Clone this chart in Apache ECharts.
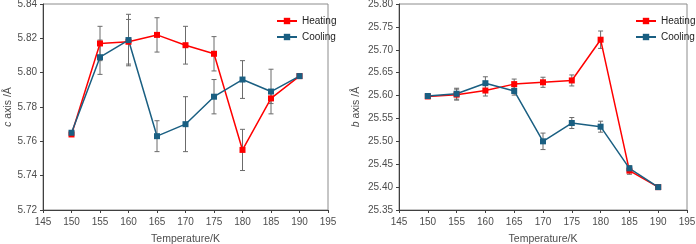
<!DOCTYPE html>
<html>
<head>
<meta charset="utf-8">
<script src="https://cdn.jsdelivr.net/npm/echarts@6/dist/echarts.min.js"></script>
<style>
  html, body { margin: 0; padding: 0; background: #fff; }
  #chart { width: 696px; height: 244px; }
</style>
</head>
<body>
<div id="chart"></div>
<script>
var temps = [150, 155, 160, 165, 170, 175, 180, 185, 190];

// c axis (left panel)
var heatC = [5.764, 5.817, 5.818, 5.822, 5.816, 5.811, 5.755, 5.785, 5.798];
var heatCErr = [0.001, 0.010, 0.013, 0.010, 0.011, 0.010, 0.012, 0.003, 0.001];
var coolC = [5.765, 5.809, 5.819, 5.763, 5.770, 5.786, 5.796, 5.789, 5.798];
var coolCErr = [0.001, 0.010, 0.015, 0.009, 0.016, 0.010, 0.011, 0.013, 0.001];

// b axis (right panel)
var heatB = [25.598, 25.602, 25.611, 25.625, 25.629, 25.633, 25.722, 25.436, 25.400];
var heatBErr = [0.003, 0.012, 0.012, 0.011, 0.011, 0.012, 0.019, 0.008, 0.001];
var coolB = [25.599, 25.604, 25.627, 25.610, 25.500, 25.540, 25.532, 25.441, 25.400];
var coolBErr = [0.003, 0.012, 0.014, 0.009, 0.018, 0.012, 0.012, 0.006, 0.001];

var red = '#ff0000';
var blue = '#1a5f82';
var txt = '#4d4d4d';
var font = 'Liberation Sans';

function pairs(vals) {
  return temps.map(function (t, i) { return [t, vals[i]]; });
}
function errs(vals, e) {
  return temps.map(function (t, i) { return [t, vals[i] - e[i], vals[i] + e[i]]; });
}

function errRender(params, api) {
  var x = api.value(0);
  var top = api.coord([x, api.value(2)]);
  var bot = api.coord([x, api.value(1)]);
  var w = 2.5;
  var st = { stroke: '#6b6b6b', lineWidth: 1 };
  return {
    type: 'group',
    children: [
      { type: 'line', shape: { x1: top[0], y1: top[1], x2: bot[0], y2: bot[1] }, style: st },
      { type: 'line', shape: { x1: top[0] - w, y1: top[1], x2: top[0] + w, y2: top[1] }, style: st },
      { type: 'line', shape: { x1: bot[0] - w, y1: bot[1], x2: bot[0] + w, y2: bot[1] }, style: st }
    ]
  };
}

function errSeries(name, vals, e, idx) {
  return {
    name: name,
    type: 'custom',
    xAxisIndex: idx,
    yAxisIndex: idx,
    renderItem: errRender,
    encode: { x: 0, y: [1, 2] },
    data: errs(vals, e),
    z: 1,
    silent: true
  };
}

function lineSeries(name, vals, color, idx) {
  return {
    name: name,
    type: 'line',
    xAxisIndex: idx,
    yAxisIndex: idx,
    data: pairs(vals),
    symbol: 'rect',
    symbolSize: 6,
    showSymbol: true,
    color: color,
    itemStyle: { color: color },
    lineStyle: { color: color, width: 1.5 },
    z: 3
  };
}

function xAxis(idx) {
  return {
    type: 'value',
    gridIndex: idx,
    min: 145,
    max: 195,
    interval: 5,
    name: 'Temperature/K',
    nameLocation: 'middle',
    nameGap: 24,
    nameTextStyle: { color: txt, fontSize: 10.5, fontFamily: font },
    axisLine: { show: true, lineStyle: { color: '#404040', width: 1 } },
    axisTick: { show: true, length: 3, lineStyle: { color: '#404040' } },
    axisLabel: { color: txt, fontSize: 10, fontFamily: font, margin: 7 },
    splitLine: { show: false }
  };
}

function yAxis(idx, min, max, interval, letter, gap) {
  return {
    type: 'value',
    gridIndex: idx,
    min: min,
    max: max,
    interval: interval,
    name: '{i|' + letter + '} axis /Å',
    nameLocation: 'middle',
    nameGap: gap,
    nameTextStyle: {
      color: txt, fontSize: 10.5, fontFamily: font,
      rich: { i: { fontStyle: 'italic', color: txt, fontSize: 10.5, fontFamily: font } }
    },
    axisLine: { show: true, lineStyle: { color: '#404040', width: 1 } },
    axisTick: { show: true, length: 3, lineStyle: { color: '#404040' } },
    axisLabel: {
      color: txt, fontSize: 10, fontFamily: font, margin: 6,
      formatter: function (v) { return v.toFixed(2); }
    },
    splitLine: { show: false }
  };
}

function legend(left) {
  return {
    data: ['Heating', 'Cooling'],
    orient: 'vertical',
    left: left,
    top: 11,
    itemWidth: 20,
    itemHeight: 8,
    itemGap: 6,
    textStyle: { color: '#222', fontSize: 10, fontFamily: font },
    selectedMode: false
  };
}

var myChart = echarts.init(document.getElementById('chart'), null, { renderer: 'canvas' });

var option = {
  backgroundColor: '#fff',
  animation: false,
  textStyle: { fontFamily: font },
  grid: [
    { left: 43, right: 368, top: 4, bottom: 34, outerBoundsMode: 'none', show: true, borderColor: '#8c8c8c', borderWidth: 1, backgroundColor: 'transparent' },
    { left: 399, right: 9, top: 4, bottom: 34, outerBoundsMode: 'none', show: true, borderColor: '#8c8c8c', borderWidth: 1, backgroundColor: 'transparent' }
  ],
  legend: [legend(271), legend(630)],
  xAxis: [xAxis(0), xAxis(1)],
  yAxis: [
    yAxis(0, 5.72, 5.84, 0.02, 'c', 28),
    yAxis(1, 25.35, 25.80, 0.05, 'b', 37)
  ],
  series: [
    errSeries('errHeatC', heatC, heatCErr, 0),
    errSeries('errCoolC', coolC, coolCErr, 0),
    lineSeries('Heating', heatC, red, 0),
    lineSeries('Cooling', coolC, blue, 0),
    errSeries('errHeatB', heatB, heatBErr, 1),
    errSeries('errCoolB', coolB, coolBErr, 1),
    lineSeries('Heating', heatB, red, 1),
    lineSeries('Cooling', coolB, blue, 1)
  ]
};

myChart.setOption(option);
</script>
</body>
</html>
